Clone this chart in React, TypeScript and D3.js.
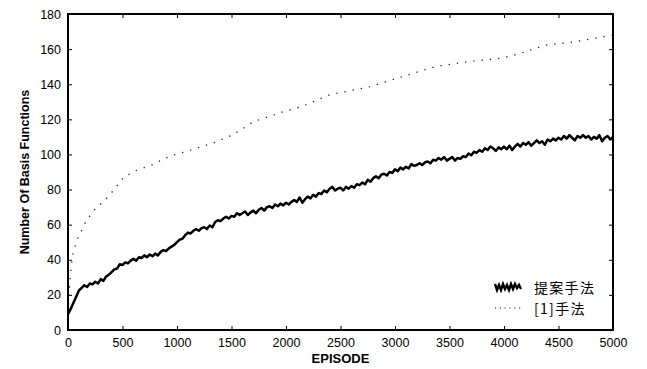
import * as d3 from "d3";
import React, { useRef, useEffect } from "react";

const width = 647;
const height = 369;

// proposed method (solid, noisy) - sampled every 25 episodes
const proposedEpisodes = d3.range(0, 5001, 25);
const proposedValues = [
  9, 12, 15.5, 19, 22.5, 24, 25.5, 24.5, 26.5, 26,
  27.5, 26.5, 29, 28, 30.5, 31.5, 33, 34.5, 35, 37.5,
  37, 38.5, 38, 39.5, 40.5, 39.5, 41.5, 41, 42.5, 41.5,
  43, 42, 43.5, 42.5, 44.5, 45.5, 45, 46.5, 47.5, 48.5,
  50, 51.5, 52, 54, 55.5, 55, 56.5, 57.5, 56.5, 58,
  58.5, 57.5, 59.5, 58.5, 61.5, 62.5, 62, 63.5, 64.5, 63.5,
  65, 64.5, 66.5, 65.5, 66.5, 67.5, 65.5, 67, 68, 66.5,
  68.5, 69.5, 68, 70, 70.5, 69.5, 71.5, 70.5, 72, 71,
  72.5, 71.5, 73, 74, 73, 75.5, 72.5, 74.5, 76, 75,
  77, 76, 78, 77.5, 79.5, 78.5, 80.5, 81.5, 79.5, 80.5,
  81, 79.5, 81.5, 80.5, 82, 81, 83, 82.5, 84, 83,
  85.5, 84.5, 86.5, 87.5, 86.5, 88.5, 89, 88, 90, 89.5,
  91.5, 90.5, 92.5, 91.5, 93, 92, 94.5, 93.5, 94, 95,
  94, 95.5, 96, 95, 97, 96.5, 98, 97, 98.5, 96.5,
  97.5, 98.5, 96.5, 98, 97.5, 99, 98.5, 100.5, 99.5, 101.5,
  101, 102.5, 101.5, 103.5, 102.5, 104.5, 103.5, 102, 104, 103,
  104.5, 103, 105, 102.5, 104.5, 106, 104.5, 106.5, 105.5, 107,
  105, 106.5, 108, 106.5, 107.5, 105.5, 108.5, 107.5, 109, 108,
  109.5, 108.5, 110.5, 109, 111, 109.5, 108, 110.5, 109.5, 111,
  109.5, 110.5, 108.5, 110, 109, 111, 107.5, 109.5, 110.5, 108.5,
  110,
];

// method [1] (dotted)
const refEpisodes = [
  0, 10, 20, 40, 80, 120, 170, 250, 340, 390, 480, 510, 630, 770, 880, 950, 1100, 1200, 1340, 1470,
  1590, 1700, 1840, 1975, 2140, 2400, 2770, 3050, 3370, 3660, 3960, 4120, 4390, 4630, 5000,
];
const refValues = [
  10, 20, 30, 42, 51, 56, 62.5, 69, 74, 77.5, 84.5, 87, 91, 94, 97.5, 99.3, 102, 104, 106.7, 110,
  114, 118.7, 121.5, 124.3, 127.2, 134, 138.6, 144, 150, 152.8, 154.7, 157, 162.3, 164, 168,
];

const xTicks = d3.range(0, 5001, 500);
const yTicks = d3.range(0, 181, 20);
const legendLabels = ["提案手法", "[1]手法"];

const margin = { top: 14, right: 34, bottom: 39, left: 68 };
const font = "'Liberation Sans', Arial, sans-serif";

function Chart() {
  const ref = useRef<SVGSVGElement>(null);

  useEffect(() => {
    const svg = d3.select(ref.current);
    svg.selectAll("*").remove();
    const innerWidth = width - margin.left - margin.right;
    const innerHeight = height - margin.top - margin.bottom;

    const x = d3.scaleLinear().domain([0, 5000]).range([0, innerWidth]);
    const y = d3.scaleLinear().domain([0, 180]).range([innerHeight, 0]);

    const g = svg.append("g").attr("transform", `translate(${margin.left},${margin.top})`);

    const line = d3
      .line<[number, number]>()
      .x((d) => x(d[0]))
      .y((d) => y(d[1]));

    // dotted line
    g.append("path")
      .datum(refEpisodes.map((e, i) => [e, refValues[i]] as [number, number]))
      .attr("fill", "none")
      .attr("stroke", "#222")
      .attr("stroke-width", 1.3)
      .attr("stroke-dasharray", "1.3,7")
      .attr("d", line);

    // solid noisy line
    g.append("path")
      .datum(proposedEpisodes.map((e, i) => [e, proposedValues[i]] as [number, number]))
      .attr("fill", "none")
      .attr("stroke", "#000")
      .attr("stroke-width", 2.5)
      .attr("stroke-linejoin", "round")
      .attr("d", line);

    // axes (ticks inward, mirrored)
    const styleAxis = (sel: any) => {
      sel.select(".domain").remove();
      sel.selectAll("text").attr("font-family", font).attr("font-size", 12.5).attr("fill", "#000");
      sel.selectAll("line").attr("stroke", "#000");
    };

    g.append("g")
      .attr("transform", `translate(0,${innerHeight})`)
      .call(d3.axisBottom(x).tickValues(xTicks).tickSizeInner(-4).tickSizeOuter(0).tickPadding(8).tickFormat(d3.format("d")))
      .call(styleAxis);
    g.append("g")
      .call(d3.axisTop(x).tickValues(xTicks).tickSizeInner(-4).tickSizeOuter(0).tickFormat(() => ""))
      .call(styleAxis);
    g.append("g")
      .call(d3.axisLeft(y).tickValues(yTicks).tickSizeInner(-4).tickSizeOuter(0).tickPadding(7))
      .call(styleAxis);
    g.append("g")
      .attr("transform", `translate(${innerWidth},0)`)
      .call(d3.axisRight(y).tickValues(yTicks).tickSizeInner(-4).tickSizeOuter(0).tickFormat(() => ""))
      .call(styleAxis);

    g.append("rect")
      .attr("width", innerWidth)
      .attr("height", innerHeight)
      .attr("fill", "none")
      .attr("stroke", "#000")
      .attr("stroke-width", 2);

    // axis titles
    g.append("text")
      .attr("x", innerWidth / 2)
      .attr("y", innerHeight + 33)
      .attr("text-anchor", "middle")
      .attr("font-family", font)
      .attr("font-weight", "bold")
      .attr("font-size", 13)
      .text("EPISODE");
    g.append("text")
      .attr("transform", `translate(${-39},${innerHeight / 2}) rotate(-90)`)
      .attr("text-anchor", "middle")
      .attr("font-family", font)
      .attr("font-weight", "bold")
      .attr("font-size", 12.5)
      .text("Number Of Basis Functions");

    // legend
    const lg = svg.append("g").attr("transform", "translate(495,287)");
    lg.append("path")
      .attr("d", "M0,-3 L2,3 L4,-2 L6,3 L8,-3 L10,2 L12,-2 L14,3 L16,-3 L18,2 L20,-3 L22,1 L24,-2 L26,2")
      .attr("fill", "none")
      .attr("stroke", "#000")
      .attr("stroke-width", 2.4);
    lg.append("line")
      .attr("x1", 0)
      .attr("x2", 27)
      .attr("y1", 21)
      .attr("y2", 21)
      .attr("stroke", "#222")
      .attr("stroke-width", 1.2)
      .attr("stroke-dasharray", "1.2,3.6");
    lg.selectAll("text.lbl")
      .data(legendLabels)
      .join("text")
      .attr("class", "lbl")
      .attr("x", 39)
      .attr("y", (d, i) => 5.5 + i * 21)
      .attr("font-family", "'Noto Sans CJK JP', sans-serif")
      .attr("font-size", 14)
      .attr("letter-spacing", 1.3)
      .text((d) => d);
  }, []);

  return <svg ref={ref} width={width} height={height} style={{ display: "block" }}></svg>;
}

export default function App() {
  return (
    <div style={{ position: "absolute", left: 0, top: 0 }}>
      <Chart />
    </div>
  );
}
